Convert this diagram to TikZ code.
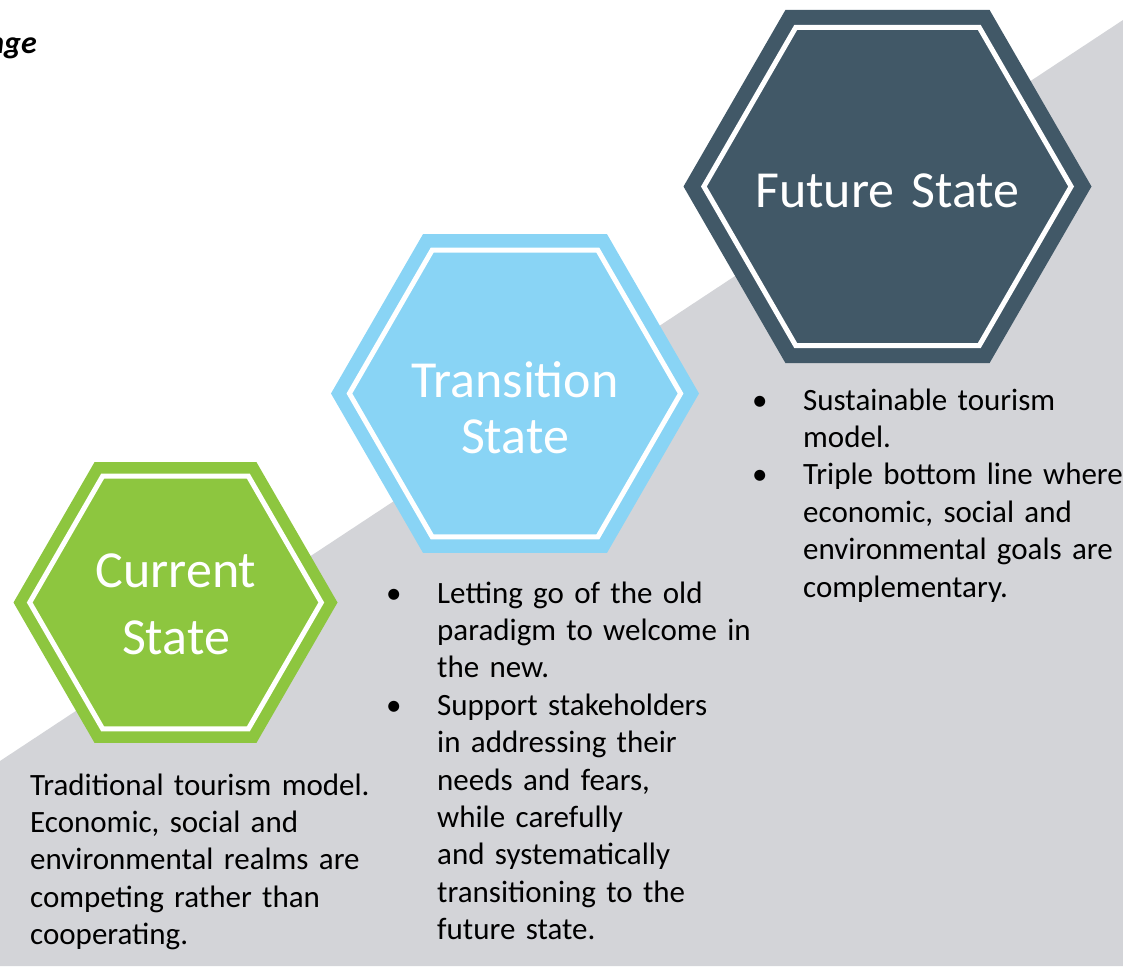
\documentclass[tikz,border=0pt]{standalone}
\usepackage{fontspec}
\setmainfont{Carlito}
\usepackage{tikz}
\usetikzlibrary{shapes.geometric}

\definecolor{curgreen}{RGB}{141,198,63}
\definecolor{transblue}{RGB}{137,212,245}
\definecolor{futslate}{RGB}{65,88,103}
\definecolor{bandgray}{RGB}{211,212,216}

\newcommand{\bul}{\makebox[51pt][l]{\textbullet}}
\newcommand{\ind}{\hspace*{51pt}}

\begin{document}
\begin{tikzpicture}[x=1pt,y=-1pt,
  hexfill/.style={regular polygon, regular polygon sides=6, inner sep=0pt, outer sep=0pt},
  hexrim/.style={regular polygon, regular polygon sides=6, inner sep=0pt, draw=white, line width=5pt},
  hexlabel/.style={text=white, anchor=base, inner sep=0pt, align=center, text width=320pt,
    font=\fontsize{52pt}{#1}\selectfont},
  bodytext/.style={anchor=base west, inner sep=0pt, align=left, text width=380pt,
    font=\fontsize{31pt}{37.4pt}\selectfont}]
\useasboundingbox (0,0) rectangle (1123,966);
% gray band behind the steps
\fill[bandgray] (0,761) -- (1123,20) -- (1123,966) -- (0,966) -- cycle;

\node[anchor=base east, inner sep=0pt, font=\fontsize{32pt}{38pt}\selectfont\bfseries\itshape] (hdr) at (37,53) {nge};

\foreach \nm/\cx/\cy/\r/\col in {cur/175.5/602.5/162/curgreen, trans/515/393.5/184/transblue, fut/887.5/186.5/204/futslate}{
  \node[hexfill, fill=\col, minimum size={2*\r pt}] (\nm) at (\cx,\cy) {};
  \node[hexrim, minimum size={1.8*\r pt}] (\nm rim) at (\nm) {};
}

\node[hexlabel=67pt] (curlbl) at (176,587) {Current\\State};
\node[hexlabel=56pt] (translbl) at (515,397) {Transition\\State};
\node[hexlabel=60pt] (futlbl) at (887.5,207) {Future State};

\node[bodytext] (curtext) at (30,795) {Traditional tourism model.\\
  Economic, social and\\
  environmental realms are\\
  competing rather than\\
  cooperating.};
\node[bodytext] (transtext) at (386,603) {\bul Letting go of the old\\
  \ind paradigm to welcome in\\
  \ind the new.\\
  \bul Support stakeholders\\
  \ind in addressing their\\
  \ind needs and fears,\\
  \ind while carefully\\
  \ind and systematically\\
  \ind transitioning to the\\
  \ind future state.};
\node[bodytext] (futtext) at (752,410) {\bul Sustainable tourism\\
  \ind model.\\
  \bul Triple bottom line where\\
  \ind economic, social and\\
  \ind environmental goals are\\
  \ind complementary.};
\end{tikzpicture}
\end{document}
